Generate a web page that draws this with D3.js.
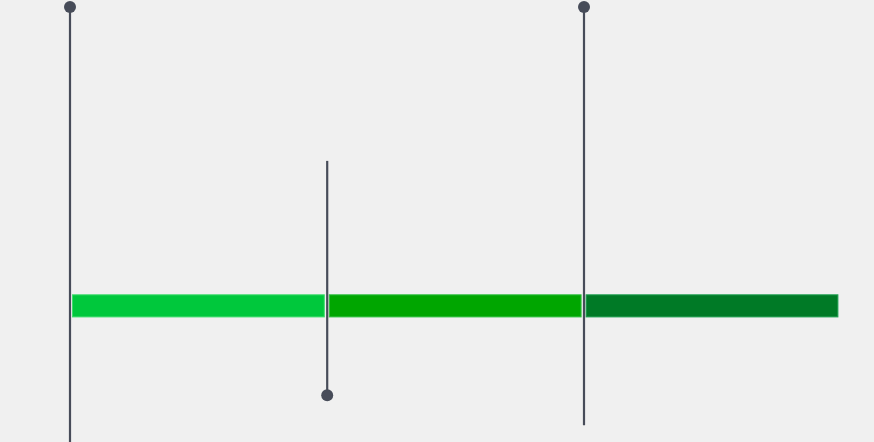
<!DOCTYPE html>
<html><head><meta charset="utf-8">
<script src="https://cdn.jsdelivr.net/npm/d3@7"></script>
<style>html,body{margin:0;padding:0;background:#f0f0f0;overflow:hidden}</style>
</head><body>
<svg id="c" width="874" height="442"></svg>
<script>
const categories = ["A", "B", "C"];
const barLow = [28.3, 28.3, 28.3];
const barHigh = [33.3, 33.3, 33.3];
const stemStart = [98.4, 63.6, 98.4];   // top end of each stem
const stemEnd = [-5, 10.6, 3.8];        // bottom end of each stem
const dotAt = ["start", "end", "start"];
const barColors = ["#00c83c", "#00a600", "#007a26"];
const barStrokes = ["#3ddc6c", "#2fc040", "#1fa050"];

const svg = d3.select("#c");
svg.append("rect").attr("width", 874).attr("height", 442).attr("fill", "#f0f0f0");

const x = d3.scaleBand().domain(categories).range([70, 840.4]).padding(0);
const y = d3.scaleLinear().domain([0, 100]).range([442, 0]);

const data = categories.map((c, i) => ({
  c, lo: barLow[i], hi: barHigh[i], s: stemStart[i], e: stemEnd[i],
  dot: dotAt[i], fill: barColors[i], stroke: barStrokes[i]
}));

svg.selectAll("rect.bar").data(data).join("rect")
  .attr("class", "bar")
  .attr("x", d => x(d.c) + 2.5)
  .attr("width", x.bandwidth() - 5)
  .attr("y", d => y(d.hi))
  .attr("height", d => y(d.lo) - y(d.hi))
  .attr("fill", d => d.fill)
  .attr("stroke", d => d.stroke)
  .attr("stroke-width", 1);

const lineX = d => x(d.c) + (d.c === "A" ? 0 : 0.4);

svg.selectAll("line.stem").data(data).join("line")
  .attr("class", "stem")
  .attr("x1", lineX).attr("x2", lineX)
  .attr("y1", d => y(d.s)).attr("y2", d => y(d.e))
  .attr("stroke", "#474c59").attr("stroke-width", 2.2);

svg.selectAll("circle.dot").data(data).join("circle")
  .attr("class", "dot")
  .attr("cx", lineX)
  .attr("cy", d => y(d.dot === "start" ? d.s : d.e))
  .attr("r", 6)
  .attr("fill", "#474c59");
</script>
</body></html>
